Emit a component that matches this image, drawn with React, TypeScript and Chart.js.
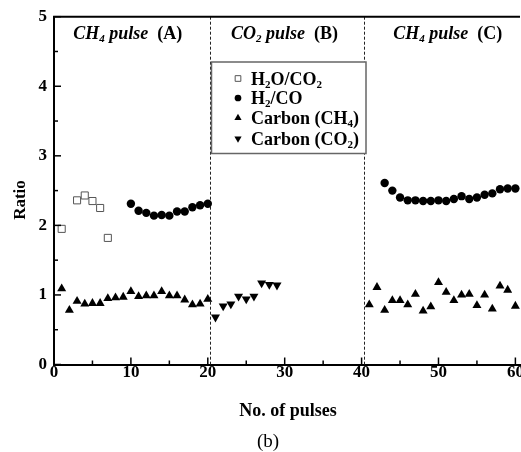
import { useEffect, useRef } from 'react';
import { Chart, registerables } from 'chart.js';
import { drawPoint } from 'chart.js/helpers';

Chart.register(...registerables);

const SERIF = "'Liberation Serif', 'Times New Roman', Times, serif";

// H2O/CO2 ratio during the first CH4 pulses
const h2oCo2Pulses = [1, 3, 4, 5, 6, 7];
const h2oCo2Ratio = [1.95, 2.36, 2.43, 2.35, 2.25, 1.82];

// H2/CO ratio (stage A and stage C)
const h2CoPulses = [10, 11, 12, 13, 14, 15, 16, 17, 18, 19, 20,
  43, 44, 45, 46, 47, 48, 49, 50, 51, 52, 53, 54, 55, 56, 57, 58, 59, 60];
const h2CoRatio = [2.31, 2.21, 2.18, 2.14, 2.15, 2.14, 2.2, 2.2, 2.26, 2.29, 2.31,
  2.61, 2.5, 2.4, 2.36, 2.36, 2.35, 2.35, 2.36, 2.35, 2.38, 2.42, 2.38, 2.4, 2.44, 2.46, 2.52, 2.53, 2.53];

// Carbon deposited from CH4 (stage A and stage C)
const carbonCh4Pulses = [1, 2, 3, 4, 5, 6, 7, 8, 9, 10, 11, 12, 13, 14, 15, 16, 17, 18, 19, 20,
  41, 42, 43, 44, 45, 46, 47, 48, 49, 50, 51, 52, 53, 54, 55, 56, 57, 58, 59, 60];
const carbonCh4Ratio = [1.09, 0.78, 0.91, 0.87, 0.88, 0.88, 0.95, 0.96, 0.97, 1.05, 0.98, 0.99, 0.99, 1.05, 0.99, 0.99, 0.93, 0.86, 0.87, 0.94,
  0.86, 1.11, 0.78, 0.92, 0.92, 0.86, 1.01, 0.77, 0.83, 1.18, 1.04, 0.92, 1.0, 1.01, 0.85, 1.0, 0.8, 1.13, 1.07, 0.84];

// Carbon removed by CO2 (stage B)
const carbonCo2Pulses = [21, 22, 23, 24, 25, 26, 27, 28, 29];
const carbonCo2Ratio = [0.68, 0.84, 0.87, 0.98, 0.94, 0.98, 1.17, 1.15, 1.14];

const xTickLabels = [0, 10, 20, 30, 40, 50, 60];
const xTickMarks = [0, 5, 10, 15, 20, 25, 30, 35, 40, 45, 50, 55, 60];
const yTickMarks = [0, 0.5, 1, 1.5, 2, 2.5, 3, 3.5, 4, 4.5, 5];

// Boundaries between the pulse stages
const stageDividers = [20.3, 40.3];
const stageGas = ['CH', 'CO', 'CH'];
const stageGasSub = ['4', '2', '4'];
const stageTag = ['(A)', '(B)', '(C)'];
const stageCenter = [9.58, 29.97, 51.2];
const stageLabelY = 4.68;

type Run = { text: string; sub?: boolean; italic?: boolean };

const legendRuns: Run[][] = [
  [{ text: 'H' }, { text: '2', sub: true }, { text: 'O/CO' }, { text: '2', sub: true }],
  [{ text: 'H' }, { text: '2', sub: true }, { text: '/CO' }],
  [{ text: 'Carbon (CH' }, { text: '4', sub: true }, { text: ')' }],
  [{ text: 'Carbon (CO' }, { text: '2', sub: true }, { text: ')' }],
];

function runFont(run: Run, size: number, bold: boolean) {
  const s = run.sub ? Math.round(size * 0.62) : size;
  return `${run.italic ? 'italic ' : ''}${bold ? 'bold ' : ''}${s}px ${SERIF}`;
}

function drawRuns(ctx: CanvasRenderingContext2D, runs: Run[], x: number, y: number,
  size: number, bold: boolean, align: 'left' | 'center') {
  let total = 0;
  for (const r of runs) {
    ctx.font = runFont(r, size, bold);
    total += ctx.measureText(r.text).width;
  }
  let cx = align === 'center' ? x - total / 2 : x;
  ctx.textAlign = 'left';
  ctx.textBaseline = 'alphabetic';
  for (const r of runs) {
    ctx.font = runFont(r, size, bold);
    ctx.fillText(r.text, cx, r.sub ? y + size * 0.18 : y);
    cx += ctx.measureText(r.text).width;
  }
}

const toPoints = (xs: number[], ys: number[]) => xs.map((x, i) => ({ x, y: ys[i] }));

const framePlugin = {
  id: 'frame',
  beforeDatasetsDraw(chart: any) {
    const { ctx, chartArea, scales } = chart;
    ctx.save();
    ctx.strokeStyle = '#222';
    ctx.lineWidth = 1;
    ctx.setLineDash([3, 2]);
    for (const v of stageDividers) {
      const px = Math.round(scales.x.getPixelForValue(v)) + 0.5;
      ctx.beginPath();
      ctx.moveTo(px, chartArea.top);
      ctx.lineTo(px, chartArea.bottom);
      ctx.stroke();
    }
    ctx.restore();
  },
  afterDatasetsDraw(chart: any) {
    const { ctx, scales } = chart;
    ctx.save();
    // stage titles
    ctx.fillStyle = '#000';
    stageGas.forEach((g, i) => {
      drawRuns(ctx, [
        { text: g, italic: true },
        { text: stageGasSub[i], sub: true, italic: true },
        { text: ' pulse', italic: true },
        { text: '  ' + stageTag[i] },
      ], scales.x.getPixelForValue(stageCenter[i]), scales.y.getPixelForValue(stageLabelY), 18, true, 'center');
    });

    // legend box
    const box = { left: 211.5, top: 62, right: 366, bottom: 153.5 };
    ctx.fillStyle = '#fff';
    ctx.fillRect(box.left, box.top, box.right - box.left, box.bottom - box.top);
    ctx.strokeStyle = '#666';
    ctx.lineWidth = 1.5;
    ctx.strokeRect(box.left, box.top, box.right - box.left, box.bottom - box.top);
    const rows = [78.5, 98, 118, 138.5];
    chart.data.datasets.forEach((ds: any, i: number) => {
      ctx.fillStyle = ds.backgroundColor;
      ctx.strokeStyle = ds.borderColor;
      ctx.lineWidth = ds.borderWidth;
      drawPoint(ctx, {
        pointStyle: ds.pointStyle,
        rotation: ds.pointRotation || 0,
        radius: ds.pointRadius * 0.8,
        borderWidth: ds.borderWidth,
      }, 238, rows[i]);
      ctx.fillStyle = '#000';
      drawRuns(ctx, legendRuns[i], 251, rows[i] + 6, 18, true, 'left');
    });
    ctx.restore();
  },
  afterDraw(chart: any) {
    const { ctx, chartArea, scales } = chart;
    ctx.save();
    ctx.strokeStyle = '#000';
    // top frame line
    ctx.lineWidth = 2;
    ctx.beginPath();
    ctx.moveTo(chartArea.left - 1, chartArea.top);
    ctx.lineTo(chartArea.right, chartArea.top);
    ctx.stroke();
    // inward tick marks
    ctx.lineWidth = 1.5;
    for (const v of xTickMarks) {
      const px = scales.x.getPixelForValue(v);
      const len = v % 10 === 0 ? 7 : 4;
      ctx.beginPath();
      ctx.moveTo(px, chartArea.bottom);
      ctx.lineTo(px, chartArea.bottom - len);
      ctx.stroke();
    }
    for (const v of yTickMarks) {
      const py = scales.y.getPixelForValue(v);
      const len = v % 1 === 0 ? 7 : 4;
      ctx.beginPath();
      ctx.moveTo(chartArea.left, py);
      ctx.lineTo(chartArea.left + len, py);
      ctx.stroke();
    }
    // axis titles and caption
    ctx.fillStyle = '#000';
    ctx.font = `bold 17px ${SERIF}`;
    ctx.textAlign = 'center';
    ctx.textBaseline = 'alphabetic';
    ctx.save();
    ctx.translate(25, 200);
    ctx.rotate(-Math.PI / 2);
    ctx.fillText('Ratio', 0, 0);
    ctx.restore();
    ctx.font = `bold 18px ${SERIF}`;
    ctx.fillText('No. of pulses', 288, 416);
    ctx.font = `19px ${SERIF}`;
    ctx.fillText('(b)', 268, 447);
    ctx.restore();
  },
};

export default function App() {
  const ref = useRef<HTMLCanvasElement>(null);

  useEffect(() => {
    const canvas = ref.current;
    if (!canvas) return;
    const tickFont = { family: SERIF, size: 17, weight: 'bold' as const, lineHeight: 1 };
    const chart = new Chart(canvas, {
      type: 'scatter',
      data: {
        datasets: [
          {
            label: 'H2O/CO2',
            data: toPoints(h2oCo2Pulses, h2oCo2Ratio),
            pointStyle: 'rect',
            pointRadius: 5,
            backgroundColor: '#fff',
            borderColor: '#555',
            borderWidth: 1,
          },
          {
            label: 'H2/CO',
            data: toPoints(h2CoPulses, h2CoRatio),
            pointStyle: 'circle',
            pointRadius: 4.2,
            backgroundColor: '#000',
            borderColor: '#000',
            borderWidth: 0,
          },
          {
            label: 'Carbon (CH4)',
            data: toPoints(carbonCh4Pulses, carbonCh4Ratio),
            pointStyle: 'triangle',
            pointRadius: 5.2,
            backgroundColor: '#000',
            borderColor: '#000',
            borderWidth: 0,
          },
          {
            label: 'Carbon (CO2)',
            data: toPoints(carbonCo2Pulses, carbonCo2Ratio),
            pointStyle: 'triangle',
            pointRotation: 180,
            pointRadius: 5.2,
            backgroundColor: '#000',
            borderColor: '#000',
            borderWidth: 0,
          },
        ] as any,
      },
      options: {
        responsive: false,
        animation: false,
        devicePixelRatio: 1,
        layout: { autoPadding: false, padding: { top: 16.7, right: 1, left: 0, bottom: 0 } },
        plugins: { legend: { display: false }, tooltip: { enabled: false } },
        scales: {
          x: {
            type: 'linear',
            min: 0,
            max: 60.6,
            afterBuildTicks: (s: any) => { s.ticks = xTickLabels.map((v) => ({ value: v })); },
            afterFit: (s: any) => { s.height = 87.5; s.paddingLeft = 0; s.paddingRight = 0; },
            grid: { display: true, drawOnChartArea: false, drawTicks: false },
            border: { display: true, width: 2, color: '#000' },
            ticks: { font: tickFont, color: '#000', padding: 0, maxRotation: 0, autoSkip: false },
          },
          y: {
            type: 'linear',
            min: 0,
            max: 5,
            afterFit: (s: any) => { s.width = 54; s.paddingTop = 0; s.paddingBottom = 0; },
            grid: { display: true, drawOnChartArea: false, drawTicks: false },
            border: { display: true, width: 2, color: '#000' },
            ticks: { font: tickFont, color: '#000', padding: 7, stepSize: 1 },
          },
        },
      } as any,
      plugins: [framePlugin],
    });
    return () => chart.destroy();
  }, []);

  return (
    <div style={{ position: 'fixed', left: 0, top: 0, width: 521, height: 452, background: '#fff' }}>
      <canvas ref={ref} width={521} height={452} style={{ display: 'block', width: 521, height: 452 }} />
    </div>
  );
}
